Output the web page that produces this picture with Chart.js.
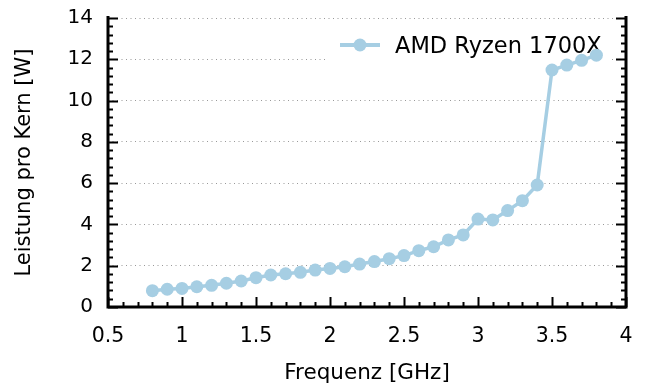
<!DOCTYPE html>
<html>
<head>
<meta charset="utf-8">
<script src="https://cdn.jsdelivr.net/npm/chart.js@4/dist/chart.umd.min.js"></script>
<style>
  html, body { margin: 0; padding: 0; background: #fff; }
  #wrap { width: 647px; height: 386px; }
</style>
</head>
<body>
<div id="wrap"><canvas id="powerChart" width="647" height="386"></canvas></div>
<script>
// frequency steps (GHz) and power per core (W)
const freqGHz = [0.8, 0.9, 1.0, 1.1, 1.2, 1.3, 1.4, 1.5, 1.6, 1.7, 1.8, 1.9, 2.0, 2.1, 2.2, 2.3,
                 2.4, 2.5, 2.6, 2.7, 2.8, 2.9, 3.0, 3.1, 3.2, 3.3, 3.4, 3.5, 3.6, 3.7, 3.8];
const powerW = [0.79, 0.86, 0.9, 0.98, 1.05, 1.15, 1.26, 1.42, 1.55, 1.61, 1.68, 1.79, 1.87, 1.95, 2.08, 2.2,
                2.34, 2.49, 2.73, 2.92, 3.25, 3.49, 4.26, 4.22, 4.67, 5.15, 5.91, 11.48, 11.72, 11.95, 12.2];
const seriesLabel = 'AMD Ryzen 1700X';
const xTicks = [0.5, 1, 1.5, 2, 2.5, 3, 3.5, 4];
const yTicks = [0, 2, 4, 6, 8, 10, 12, 14];

const lineColor = '#a6cee3';
const fontFamily = '"DejaVu Sans", sans-serif';

// frame: left, bottom and right axis lines with inward ticks (no top line)
const framePlugin = {
    id: 'frame',
    afterDatasetsDraw(chart) {
        const { ctx, chartArea: a, scales } = chart;
        const xs = scales.x, ys = scales.y;
        ctx.save();
        ctx.strokeStyle = '#000';
        ctx.lineWidth = 2;
        // minor + major ticks on x (bottom)
        for (let i = 0; i <= 35; i++) {
            const v = 0.5 + i * 0.1;
            const px = Math.round(xs.getPixelForValue(v)) + 0.5;
            const len = (i % 5 === 0) ? 10 : 5;
            ctx.beginPath();
            ctx.moveTo(px, a.bottom);
            ctx.lineTo(px, a.bottom - len);
            ctx.stroke();
        }
        // minor + major ticks on y (left and right)
        for (let i = 0; i <= 35; i++) {
            const v = i * 0.4;
            const py = Math.round(ys.getPixelForValue(v)) + 0.5;
            const len = (i % 5 === 0) ? 10 : 5;
            ctx.beginPath();
            ctx.moveTo(a.left, py);
            ctx.lineTo(a.left + len, py);
            ctx.moveTo(a.right, py);
            ctx.lineTo(a.right - len, py);
            ctx.stroke();
        }
        // axis lines
        ctx.lineWidth = 3;
        ctx.beginPath();
        ctx.moveTo(a.left, a.top - 2);
        ctx.lineTo(a.left, a.bottom);
        ctx.lineTo(a.right, a.bottom);
        ctx.lineTo(a.right, a.top - 2);
        ctx.stroke();
        ctx.restore();
    }
};

// legend drawn under the data, on a white box that hides the grid
const legendBoxPlugin = {
    id: 'legendBox',
    beforeDatasetsDraw(chart) {
        const { ctx } = chart;
        const label = chart.data.datasets[0].label;
        ctx.save();
        ctx.fillStyle = '#fff';
        ctx.fillRect(325, 25, 287, 42);
        ctx.strokeStyle = lineColor;
        ctx.lineWidth = 4;
        ctx.beginPath();
        ctx.moveTo(340, 45);
        ctx.lineTo(380, 45);
        ctx.stroke();
        ctx.fillStyle = lineColor;
        ctx.beginPath();
        ctx.arc(360, 45, 6.5, 0, Math.PI * 2);
        ctx.fill();
        ctx.fillStyle = '#000';
        ctx.font = '22.5px ' + fontFamily;
        ctx.textBaseline = 'middle';
        ctx.textAlign = 'left';
        ctx.fillText(label, 395, 47);
        ctx.restore();
    }
};

Chart.defaults.font.family = fontFamily;
Chart.defaults.font.size = 20;
Chart.defaults.color = '#000';

const ctx = document.getElementById('powerChart').getContext('2d');
const chart = new Chart(ctx, {
    type: 'line',
    data: {
        datasets: [{
            label: seriesLabel,
            data: freqGHz.map((f, i) => ({ x: f, y: powerW[i] })),
            borderColor: lineColor,
            backgroundColor: lineColor,
            borderWidth: 3.5,
            pointRadius: 6.5,
            pointBorderWidth: 0,
            pointBackgroundColor: lineColor,
            tension: 0,
            fill: false
        }]
    },
    options: {
        responsive: false,
        animation: false,
        devicePixelRatio: 1,
        layout: { padding: { left: 0, top: 18, right: 21, bottom: 0 } },
        plugins: {
            legend: { display: false },
            tooltip: { enabled: false }
        },
        scales: {
            x: {
                type: 'linear',
                min: 0.5,
                max: 4,
                afterBuildTicks: scale => { scale.ticks = xTicks.map(v => ({ value: v })); },
                ticks: { padding: 17, font: { size: 20.5 }, callback: v => String(v) },
                grid: { display: false, drawTicks: false },
                border: { display: false },
                title: { display: true, text: 'Frequenz [GHz]', font: { size: 21.5 }, padding: { top: 0, bottom: 0 } },
                afterFit: scale => {
                    scale.height = 79;
                    scale.paddingLeft = 0;
                    scale.paddingRight = 0;
                }
            },
            y: {
                type: 'linear',
                min: 0,
                max: 14,
                afterBuildTicks: scale => { scale.ticks = yTicks.map(v => ({ value: v })); },
                ticks: { padding: 15, callback: v => String(v) },
                grid: { drawTicks: false, color: '#999', lineWidth: 1 },
                border: { display: false, dash: [1, 3.5] },
                title: { display: true, text: 'Leistung pro Kern [W]', font: { size: 21 }, padding: { top: 11.5, bottom: 0 } },
                afterFit: scale => {
                    scale.width = 108;
                    scale.paddingTop = 0;
                    scale.paddingBottom = 0;
                }
            }
        }
    },
    plugins: [legendBoxPlugin, framePlugin]
});
</script>
</body>
</html>
